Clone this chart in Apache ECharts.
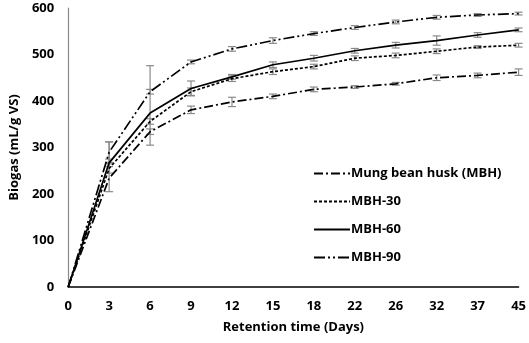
<!DOCTYPE html>
<html>
<head>
<meta charset="utf-8">
<script src="https://cdn.jsdelivr.net/npm/echarts@6/dist/echarts.min.js"></script>
<style>html,body{margin:0;padding:0;background:#fff;}#c{width:529px;height:343px;}</style>
</head>
<body>
<div id="c"></div>
<script>
var days = ['0','3','6','9','12','15','18','22','26','32','37','45'];
var seriesNames = ['Mung bean husk (MBH)','MBH-30','MBH-60','MBH-90'];
var mbh   = [0, 234, 334, 381, 398, 410, 425, 430, 437, 450, 455, 462];
var mbh30 = [0, 255, 356, 420, 448, 463, 474, 492, 498, 507, 516, 520];
var mbh60 = [0, 267, 374, 427, 452, 478, 492, 508, 520, 530, 542, 553];
var mbh90 = [0, 290, 420, 484, 512, 530, 545, 558, 570, 580, 585, 588];
// error bars as [minus, plus]
var errMbh   = [[0,0],[29,78],[6,6],[8,8],[10,10],[5,5],[5,5],[3,3],[3,3],[6,6],[5,5],[7,7]];
var errMbh30 = [[0,0],[10,10],[6,6],[8,8],[6,6],[6,6],[5,5],[5,5],[5,5],[5,5],[3,3],[4,4]];
var errMbh60 = [[0,0],[8,8],[69,102],[16,16],[5,5],[6,6],[6,6],[5,5],[6,6],[10,10],[5,5],[4,4]];
var errMbh90 = [[0,0],[22,22],[5,5],[4,4],[5,5],[6,6],[4,4],[4,4],[4,4],[4,4],[3,3],[3,3]];

var values = [mbh, mbh30, mbh60, mbh90];
var errs = [errMbh, errMbh30, errMbh60, errMbh90];
var dashes = [[9,3,2,3], [3,2], 'solid', [11,3,2,3,2,3]];

var series = [];
values.forEach(function(v, i){
  var d = [];
  v.forEach(function(val, j){ d.push([j, val - errs[i][j][0], val + errs[i][j][1]]); });
  series.push({
    type:'custom', silent:true, z:1,
    data:d,
    encode:{x:0,y:[1,2]},
    renderItem:function(params, api){
      var x = api.value(0);
      var lo = api.coord([x, api.value(1)]);
      var hi = api.coord([x, api.value(2)]);
      if (Math.abs(lo[1]-hi[1]) < 0.5) return null;
      var w = 4;
      var st = {stroke:'#8a8a8a', lineWidth:1.2};
      return {type:'group', children:[
        {type:'line', shape:{x1:lo[0],y1:lo[1],x2:hi[0],y2:hi[1]}, style:st},
        {type:'line', shape:{x1:lo[0]-w,y1:lo[1],x2:lo[0]+w,y2:lo[1]}, style:st},
        {type:'line', shape:{x1:hi[0]-w,y1:hi[1],x2:hi[0]+w,y2:hi[1]}, style:st}
      ]};
    }
  });
});
values.forEach(function(v, i){
  series.push({
    name: seriesNames[i], type:'line', data:v, symbol:'none', z:3,
    itemStyle:{color:'#000'},
    lineStyle:{color:'#000', width:1.7, type:dashes[i]}
  });
});

var chart = echarts.init(document.getElementById('c'), null, {renderer:'canvas'});
var font = 'Open Sans';
chart.setOption({
  animation:false,
  backgroundColor:'#fff',
  grid:{left:62, right:10, top:8, bottom:56, containLabel:false},
  legend:{
    orient:'vertical', left:308, top:162, itemGap:15, itemWidth:36, itemHeight:14,
    data:seriesNames,
    itemStyle:{opacity:0},
    textStyle:{fontFamily:font, fontWeight:'bold', fontSize:13, color:'#000', padding:[0,0,0,-4]}
  },
  xAxis:{
    type:'category', data:days, boundaryGap:false,
    name:'Retention time (Days)', nameLocation:'middle', nameGap:34,
    nameTextStyle:{fontFamily:font, fontWeight:'bold', fontSize:13, color:'#000'},
    axisLine:{lineStyle:{color:'#000', width:1.5}},
    axisTick:{show:false},
    axisLabel:{fontFamily:font, fontWeight:'bold', fontSize:13, color:'#000', margin:13, interval:0},
    splitLine:{show:false}
  },
  yAxis:{
    type:'value', min:0, max:600, interval:100,
    name:'Biogas (mL/g VS)', nameLocation:'middle', nameGap:44,
    nameTextStyle:{fontFamily:font, fontWeight:'bold', fontSize:13, color:'#000'},
    axisLine:{show:true, lineStyle:{color:'#8a8a8a', width:1.2}},
    axisTick:{show:false},
    axisLabel:{fontFamily:font, fontWeight:'bold', fontSize:13, color:'#000', margin:14},
    splitLine:{show:false}
  },
  series:series
});
</script>
</body>
</html>
